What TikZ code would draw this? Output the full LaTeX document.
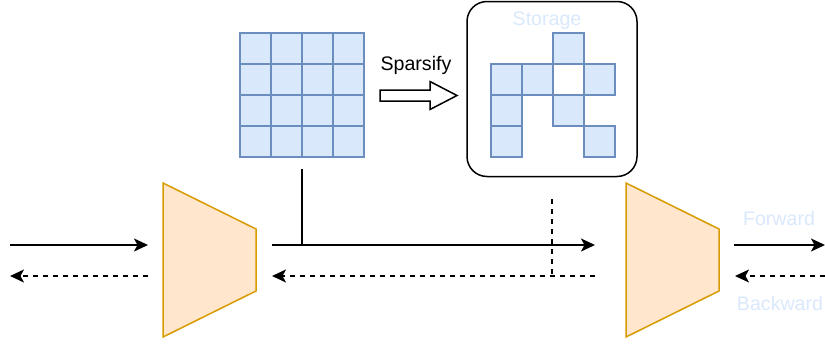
\documentclass[tikz,border=0pt]{standalone}
\usepackage{fontspec}
\setmainfont{Liberation Sans}
\usetikzlibrary{arrows.meta}
\definecolor{cellfill}{HTML}{DAE8FC}
\definecolor{celldraw}{HTML}{6C8EBF}
\definecolor{layerfill}{HTML}{FFE6CC}
\definecolor{layerdraw}{HTML}{D79B00}
\tikzset{
  cell/.style={fill=cellfill, draw=celldraw, line width=1.5pt},
  layer/.style={fill=layerfill, draw=layerdraw, line width=1.5pt, line join=miter},
  fwd/.style={line width=1.5pt, -{Stealth[length=14pt,width=13pt,inset=3.5pt]}},
  bwd/.style={line width=1.5pt, dash pattern=on 5pt off 5pt, -{Stealth[length=14pt,width=13pt,inset=3.5pt]}},
  lbl/.style={font=\fontsize{19.6}{23}\selectfont, inner sep=0pt, anchor=base},
  faint/.style={lbl, text=cellfill},
}
\begin{document}
\begin{tikzpicture}[x=1pt,y=-1pt]
\useasboundingbox (0,0) rectangle (825,343);

% dense weight matrix
\node[minimum size=124pt, inner sep=0pt] (grid) at (302,95) {};
\foreach \i in {0,...,3}
  \foreach \j in {0,...,3}
    \draw[cell] (240+31*\i,33+31*\j) rectangle ++(31,31);

% sparsify label and hollow arrow
\node[lbl] (sparsify) at (416,70) {Sparsify};
\draw[line width=1.5pt, fill=white]
  (380,90) -- (430,90) -- (430,81.5) -- (457,95.5) -- (430,109.5)
  -- (430,101) -- (380,101) -- cycle;

% storage of the remaining weights
\node[draw, line width=1.5pt, rounded corners=20pt, minimum width=170pt,
      minimum height=175pt, inner sep=0pt] (storage) at (552,89) {};
\node[faint] (storagelbl) at (547,25) {Storage};
\foreach \c/\r in {2/0, 0/1, 1/1, 3/1, 0/2, 2/2, 0/3, 3/3}
  \draw[cell] (491+31*\c,33+31*\r) rectangle ++(31,31);

% layers
\draw[layer] (163,183) -- (256,229) -- (256,291) -- (163,337) -- cycle;
\draw[layer] (626,183) -- (719,229) -- (719,291) -- (626,337) -- cycle;
\coordinate (layerAin) at (148,245);
\coordinate (layerAout) at (272,245);
\coordinate (layerBin) at (595,245);
\coordinate (layerBout) at (734,245);

% forward pass
\coordinate (inL) at (10,245);
\coordinate (outR) at (825,245);
\draw[fwd] (inL) -- (layerAin);
\draw[fwd] (layerAout) -- (layerBin);
\draw[fwd] (layerBout) -- (outR);

% backward pass
\coordinate (bwdA) at (148,276);
\coordinate (bwdL) at (10,276);
\coordinate (bwdB) at (595,276);
\coordinate (bwdAend) at (272,276);
\coordinate (bwdR) at (825,276);
\coordinate (bwdBend) at (735,276);
\draw[bwd] (bwdA) -- (bwdL);
\draw[bwd] (bwdB) -- (bwdAend);
\draw[bwd] (bwdR) -- (bwdBend);

% weight tap and gradient tap
\coordinate (tapTop) at (302,169);
\coordinate (tapBot) at (302,245);
\draw[line width=1.5pt] (tapTop) -- (tapBot);
\coordinate (gradTop) at (552,199);
\coordinate (gradBot) at (552,276);
\draw[line width=1.5pt, dash pattern=on 5pt off 5pt] (gradTop) -- (gradBot);

% direction labels
\node[faint] (fwdlbl) at (779,225) {Forward};
\node[faint] (bwdlbl) at (780,310) {Backward};
\end{tikzpicture}
\end{document}
